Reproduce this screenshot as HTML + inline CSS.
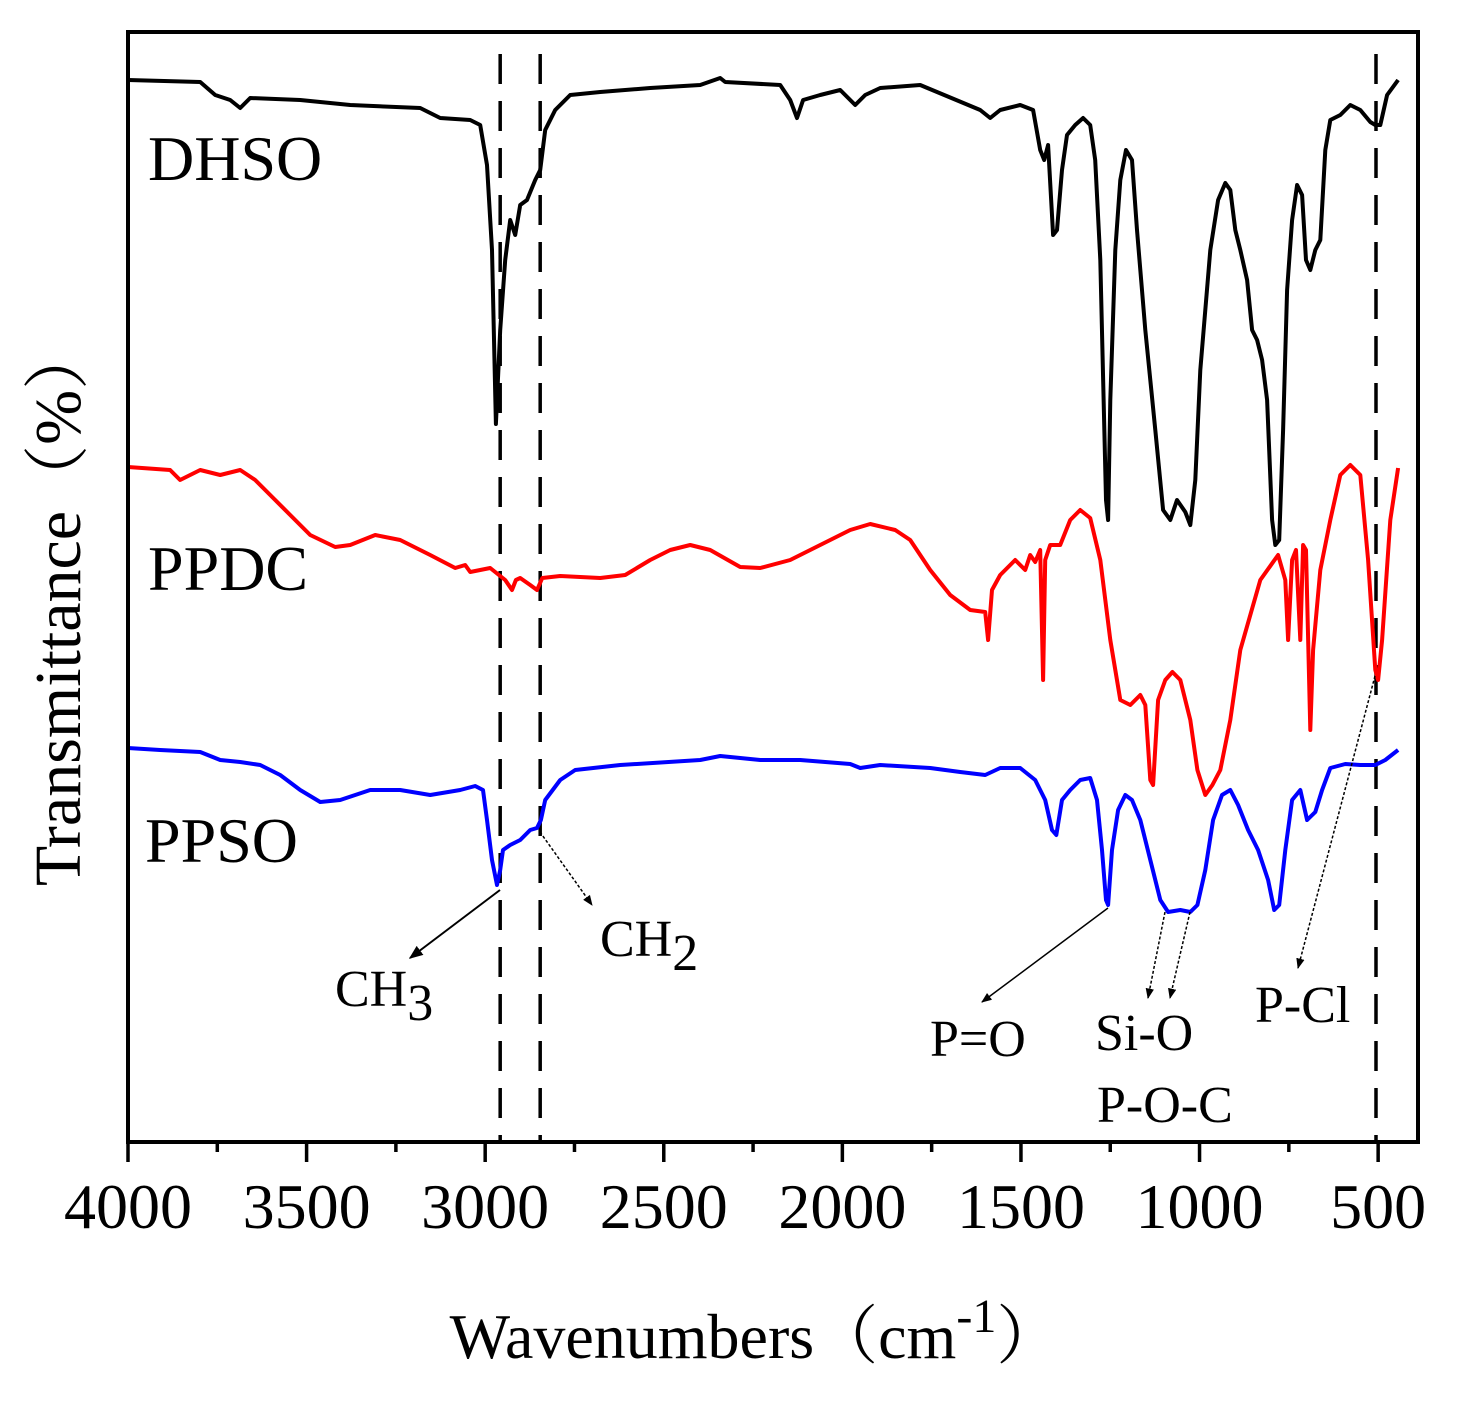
<!DOCTYPE html>
<html><head><meta charset="utf-8"><style>
html,body{margin:0;padding:0;background:#fff;}
svg{display:block;font-family:"Liberation Serif","Noto Serif CJK SC",serif;}
</style></head><body>
<svg id="chart" width="1460" height="1407" viewBox="0 0 1460 1407">
<rect x="0" y="0" width="1460" height="1407" fill="#fff"/>
<defs>
<marker id="ah" viewBox="0 0 10 10" refX="9" refY="5" markerWidth="7" markerHeight="7" orient="auto"><path d="M0,1 L10,5 L0,9 z" fill="#000"/></marker>
</defs>
<g id="plot"></g>
<g id="axes"></g>
<g id="labels">
<text x="148" y="180" font-size="64">DHSO</text>
<text x="148" y="590" font-size="64">PPDC</text>
<text x="145" y="862" font-size="64">PPSO</text>
<text x="335" y="1006" font-size="52">CH<tspan dy="14">3</tspan></text>
<text x="600" y="956" font-size="52">CH<tspan dy="14">2</tspan></text>
<text x="930" y="1056" font-size="52">P=O</text>
<text x="1095" y="1050" font-size="52">Si-O</text>
<text x="1097" y="1122" font-size="52">P-O-C</text>
<text x="1255" y="1022" font-size="52">P-Cl</text>
<line x1="500" y1="890" x2="410" y2="958" stroke="#000" stroke-width="2" marker-end="url(#ah)"/>
<line x1="540" y1="832" x2="592" y2="905" stroke="#000" stroke-width="1.5" stroke-dasharray="3,2" marker-end="url(#ah)"/>
<line x1="1108" y1="908" x2="982" y2="1002" stroke="#000" stroke-width="1.5" marker-end="url(#ah)"/>
<line x1="1165" y1="912" x2="1148" y2="998" stroke="#000" stroke-width="1.5" stroke-dasharray="3,2" marker-end="url(#ah)"/>
<line x1="1190" y1="912" x2="1170" y2="998" stroke="#000" stroke-width="1.5" stroke-dasharray="3,2" marker-end="url(#ah)"/>
<line x1="1375" y1="676" x2="1298" y2="968" stroke="#000" stroke-width="1.5" stroke-dasharray="3,2" marker-end="url(#ah)"/>
<text x="755" y="1358" font-size="64" text-anchor="middle">Wavenumbers（cm<tspan font-size="48" dy="-26">-1</tspan><tspan dy="26">）</tspan></text>
<text transform="translate(80,605) rotate(-90)" font-size="66" text-anchor="middle">Transmittance（%）</text>
</g>
</svg>
<script>
const xTicks=[4000,3500,3000,2500,2000,1500,1000,500];
const markerLines=[2958,2846,506];
const dhsoW=[4000,3798,3756,3714,3686,3658,3518,3378,3182,3126,3042,3014,2995,2981,2970,2958,2944,2930,2916,2902,2883,2860,2846,2832,2804,2762,2678,2538,2398,2342,2328,2174,2146,2127,2110,2062,2006,1964,1936,1894,1782,1614,1586,1558,1502,1466,1446,1435,1424,1410,1399,1385,1371,1348,1326,1306,1292,1278,1262,1256,1250,1236,1222,1206,1189,1175,1152,1124,1102,1082,1063,1040,1026,1012,998,970,948,928,914,900,886,867,853,839,825,811,797,788,777,766,755,741,727,713,702,690,676,662,648,634,606,578,550,522,508,494,475,444];
const dhsoT=[1062,1060,1047,1042,1034,1044,1042,1037,1034,1024,1022,1017,977,892,718,812,882,922,907,937,942,962,972,1012,1032,1047,1050,1054,1057,1064,1060,1057,1042,1024,1042,1047,1052,1037,1047,1054,1057,1032,1024,1032,1037,1032,992,982,997,907,912,972,1007,1017,1024,1017,982,882,642,622,742,892,962,992,982,912,812,712,632,622,642,630,617,662,772,892,942,959,952,912,892,862,812,802,782,742,622,597,602,712,852,922,957,947,882,872,892,902,992,1022,1027,1037,1032,1020,1017,1017,1047,1062];
const ppdcW=[4000,3882,3854,3798,3742,3686,3644,3602,3546,3490,3420,3378,3308,3238,3154,3084,3056,3042,2986,2944,2925,2914,2902,2874,2855,2840,2790,2678,2608,2538,2482,2426,2370,2286,2230,2146,2062,1978,1922,1852,1810,1754,1698,1642,1600,1592,1581,1558,1516,1488,1474,1460,1446,1438,1432,1418,1390,1362,1334,1306,1278,1250,1222,1194,1166,1152,1138,1130,1116,1096,1076,1054,1026,1006,984,964,942,914,886,830,780,760,752,741,730,718,710,702,690,682,662,634,606,578,550,528,508,500,489,466,444];
const ppdcT=[675,672,662,672,667,672,662,647,627,607,595,597,607,602,587,574,577,570,574,562,552,562,564,557,552,564,566,564,567,582,592,597,592,575,574,582,597,612,618,612,602,572,547,532,530,502,552,567,582,572,587,580,592,462,582,597,597,622,632,624,582,502,442,437,447,437,362,357,442,462,470,462,422,372,347,357,372,422,492,562,587,562,502,582,592,502,597,592,412,492,572,622,667,677,667,582,472,462,502,622,674];
const ppsoW=[4000,3910,3798,3742,3686,3630,3574,3518,3462,3406,3322,3238,3154,3070,3028,3006,2995,2981,2967,2958,2950,2930,2902,2874,2855,2844,2832,2790,2748,2622,2398,2342,2230,2118,1978,1950,1894,1754,1670,1600,1558,1502,1460,1432,1413,1401,1385,1362,1334,1306,1287,1273,1262,1256,1245,1228,1208,1189,1166,1138,1110,1088,1054,1026,1006,984,962,937,914,892,864,836,808,791,777,760,741,718,699,676,657,634,592,550,508,480,444];
const ppsoT=[394,392,390,382,380,377,367,352,340,342,352,352,347,352,356,352,322,282,257,272,292,297,302,312,314,322,342,362,372,377,382,386,382,382,378,374,377,374,370,367,374,374,362,342,312,307,342,352,362,364,342,292,242,237,292,332,347,342,322,282,242,230,232,230,237,272,322,347,352,337,312,292,262,232,237,292,342,352,322,330,352,374,378,377,377,382,392];

const L=128,R=1418,T=32,B=1142;
const xMax=4000,xMin=388.4;
function xs(w){return L+(xMax-w)/(xMax-xMin)*(R-L);}
function ys(v){return B-v/(B-T)*(B-T);}
const NS="http://www.w3.org/2000/svg";
const plot=document.getElementById('plot'),axes=document.getElementById('axes');
function mk(tag,attrs,parent){const e=document.createElementNS(NS,tag);for(const k in attrs)e.setAttribute(k,attrs[k]);parent.appendChild(e);return e;}

markerLines.forEach(w=>{
  const ln=mk('line',{x1:xs(w),x2:xs(w),y1:T+22,y2:B,stroke:'#000','stroke-width':3.5,'stroke-dasharray':'30,17'},plot);
  
  
});
function series(W,Tv,color,name){
  const d=W.map((w,i)=>(i?'L':'M')+xs(w).toFixed(1)+','+ys(Tv[i]).toFixed(1)).join(' ');
  const p=mk('path',{d:d,fill:'none',stroke:color,'stroke-width':4,'stroke-linejoin':'round'},plot);
  
  
}
series(dhsoW,dhsoT,'#000','series-dhso');
series(ppdcW,ppdcT,'#f00','series-ppdc');
series(ppsoW,ppsoT,'#00f','series-ppso');

const frame=mk('rect',{x:L,y:T,width:R-L,height:B-T,fill:'none',stroke:'#000','stroke-width':4},axes);


for(let w=4000;w>=xMin;w-=250){
  const major=w%500===0;
  const t=mk('line',{x1:xs(w),x2:xs(w),y1:B,y2:B+(major?20:10),stroke:'#000','stroke-width':3.5},axes);
  
  
}
xTicks.forEach(w=>{
  const tx=mk('text',{x:xs(w),y:1228,'font-size':64,'text-anchor':'middle'},axes);
  tx.textContent=w;
  
  
});
</script>
</body></html>
